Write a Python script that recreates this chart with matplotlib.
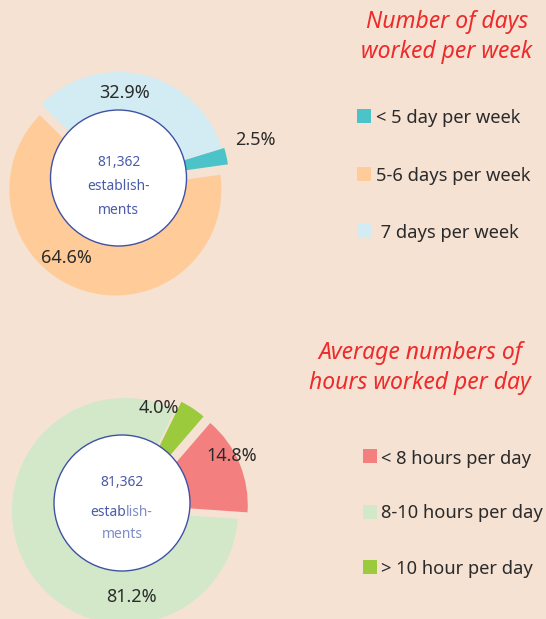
import matplotlib
matplotlib.use("Agg")
import matplotlib.pyplot as plt
from matplotlib.patches import Circle, Rectangle

# ---------------- data ----------------
days_labels = ["< 5 day per week", "5-6 days per week", " 7 days per week"]
days_values = [2.5, 64.6, 32.9]          # legend order
hours_labels = ["< 8 hours per day", "8-10 hours per day", "> 10 hour per day"]
hours_values = [14.8, 81.2, 4.0]          # legend order
total_establishments = "81,362"
title_days = "Number of days\nworked per week"
title_hours = "Average numbers of\nhours worked per day"

# ---------------- style ----------------
BG = "#F5E2D3"
days_colors = ["#4BC3C8", "#FFCC99", "#D3ECF3"]
hours_colors = ["#F47F7F", "#D2E8C9", "#9BCB3C"]
TXT = "#2B2B2B"
RED = "#EE2A2A"
INNER = "#4A5BAA"
INNER_LIGHT = "#7F8DC6"
FONT = "Noto Sans"

W, H = 546, 619
fig = plt.figure(figsize=(W / 100, H / 100), dpi=100)
fig.patch.set_facecolor(BG)
ax = fig.add_axes([0, 0, 1, 1])
ax.set_facecolor(BG)


def Y(py):
    return H - py


# ---------- top donut (pie order: <5, 7, 5-6 counterclockwise) ----------
top_order = [0, 2, 1]
wt, _ = ax.pie([days_values[i] for i in top_order],
               colors=[days_colors[i] for i in top_order],
               startangle=8, counterclock=True, radius=108,
               center=(118.5, Y(180)), explode=[3.5, 0, 10],
               wedgeprops=dict(linewidth=0))
wt[0].set_radius(107)
wt[2].set_radius(106)
ax.add_patch(Circle((118.5, Y(178)), 68, facecolor="white",
                    edgecolor="#3F51A5", linewidth=1.0, zorder=5))

# ---------- bottom donut (pie order: <8, >10, 8-10) ----------
bot_order = [0, 2, 1]
wb, _ = ax.pie([hours_values[i] for i in bot_order],
               colors=[hours_colors[i] for i in bot_order],
               startangle=-4, counterclock=True, radius=113,
               center=(125, Y(511)), explode=[16, 17, 0],
               wedgeprops=dict(linewidth=0))
wb[0].set_radius(108)
wb[1].set_radius(106)
ax.add_patch(Circle((122, Y(503)), 68, facecolor="white",
                    edgecolor="#3F51A5", linewidth=1.0, zorder=5))

ax.set_xlim(0, W)
ax.set_ylim(0, H)
ax.set_aspect("equal")
ax.axis("off")

# ---------- percent labels ----------
pct = dict(fontsize=13, color=TXT, family=FONT, ha="center", va="center", zorder=6)
ax.text(125, Y(93), f"{days_values[2]:.1f}%", **pct)
ax.text(255, Y(140), f"{days_values[0]:.1f}%", **pct)
ax.text(66, Y(258), f"{days_values[1]:.1f}%", **pct)
ax.text(159, Y(408), f"{hours_values[2]:.1f}%", **pct)
ax.text(232, Y(456), f"{hours_values[0]:.1f}%", **pct)
ax.text(131, Y(597), f"{hours_values[1]:.1f}%", **pct)

# ---------- centre texts ----------
ctr = dict(fontsize=10, family=FONT, ha="center", va="center", zorder=7)
ax.text(118.5, Y(162), total_establishments, color=INNER, **ctr)
ax.text(118.5, Y(187), "establish-", color=INNER, **ctr)
ax.text(118.5, Y(211), "ments", color=INNER, **ctr)

ax.text(122, Y(482), total_establishments, color=INNER, **ctr)
t1 = ax.text(90, Y(512), "estab", color=INNER, fontsize=10, family=FONT,
             ha="left", va="center", zorder=7)
ax.annotate("lish-", xy=(1, 0.5), xycoords=t1, va="center", ha="left",
            color=INNER_LIGHT, fontsize=10, family=FONT, zorder=7)
ax.text(122, Y(535), "ments", color=INNER_LIGHT, **ctr)

# ---------- titles ----------
tt = dict(fontsize=16.5, color=RED, family=FONT, style="italic",
          ha="center", va="center", linespacing=1.3)
ax.text(447, Y(37), title_days, **tt)
ax.text(420, Y(368), title_hours, **tt)

# ---------- legends ----------
lg = dict(fontsize=13.2, color=TXT, family=FONT, ha="left", va="center")
top_sq_y = [116, 174, 231]
top_tx_y = [118, 176, 233]
for lab, col, sy, ty in zip(days_labels, days_colors, top_sq_y, top_tx_y):
    ax.add_patch(Rectangle((357, Y(sy) - 7), 14, 14, facecolor=col, edgecolor="none"))
    ax.text(376, Y(ty), lab, **lg)

bot_sq_y = [456, 512, 567]
bot_tx_y = [459, 513, 569]
for lab, col, sy, ty in zip(hours_labels, hours_colors, bot_sq_y, bot_tx_y):
    ax.add_patch(Rectangle((363, Y(sy) - 7), 14, 14, facecolor=col, edgecolor="none"))
    ax.text(381, Y(ty), lab, **lg)

fig.savefig("out.png", dpi=100, facecolor=BG)
